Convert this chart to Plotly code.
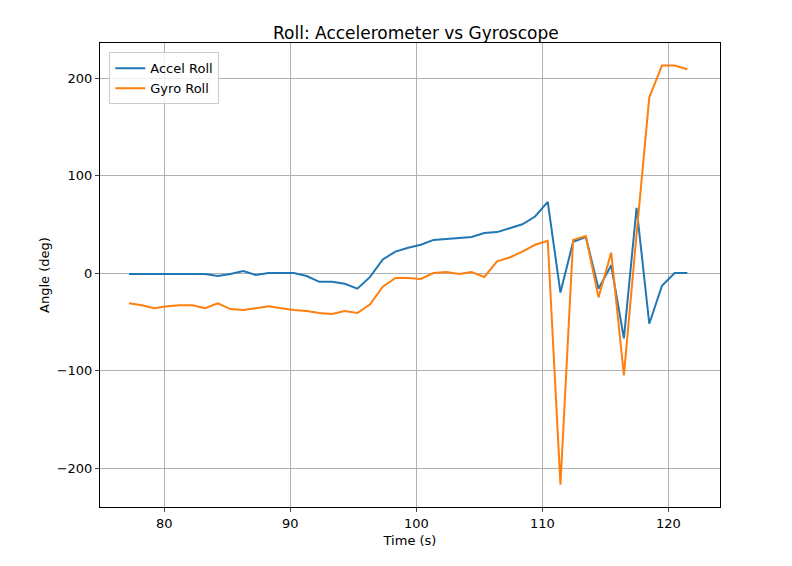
import plotly.graph_objects as go

t_start = 77.2
t_step = 1.007
accel_roll = [-1,-1,-0.5,-1,-1,-1,-1,-3,-1,2,-2,0,0,0,-3,-9,-9,-11,-16,-4,14,22,26,29,34,35,36,37,41,42,46,50,58,73,
              -20,32,37,-16,8,-67,67,-52,-13,0,0]
gyro_roll = [-31,-33,-36,-34,-33,-33,-36,-31,-37,-38,-36,-34,-36,-38,-39,-41,-42,-39,-41,-32,-14,-5,-5,-6,0,1,-1,1,-4,12,16,22,29,33,
             -217,34,38,-25,21,-105,40,180,213,213,209]
time_s = [t_start + i * t_step for i in range(len(accel_roll))]

fig = go.Figure()
fig.add_trace(go.Scatter(x=time_s, y=accel_roll, mode="lines", name="Accel Roll",
                         line=dict(color="#1f77b4", width=2)))
fig.add_trace(go.Scatter(x=time_s, y=gyro_roll, mode="lines", name="Gyro Roll",
                         line=dict(color="#ff7f0e", width=2)))
ax = dict(showline=True, linecolor="black", mirror=True, showgrid=True, gridcolor="#b0b0b0",
          ticks="outside", ticklen=4, zeroline=False, tickfont=dict(size=13, color="black"))
fig.update_layout(
    width=792, height=566, paper_bgcolor="white", plot_bgcolor="white",
    font=dict(family="DejaVu Sans", color="black", size=13),
    title=dict(text="Roll: Accelerometer vs Gyroscope", x=0.515, xanchor="center", y=0.955, yanchor="middle",
               font=dict(size=17)),
    margin=dict(l=92, r=80, t=35, b=67),
    xaxis=dict(ax, range=[74.9, 124.1], tickvals=[80,90,100,110,120],
               title=dict(text="Time (s)", standoff=6, font=dict(size=13))),
    yaxis=dict(ax, range=[-240, 236], tickvals=[-200,-100,0,100,200],
               title=dict(text="Angle (deg)", standoff=4, font=dict(size=13))),
    legend=dict(x=0.015, y=0.98, xanchor="left", yanchor="top", bordercolor="#cccccc", borderwidth=1,
                bgcolor="rgba(255,255,255,0.8)", font=dict(size=13)),
    showlegend=True,
)
fig.write_html("out.html")
